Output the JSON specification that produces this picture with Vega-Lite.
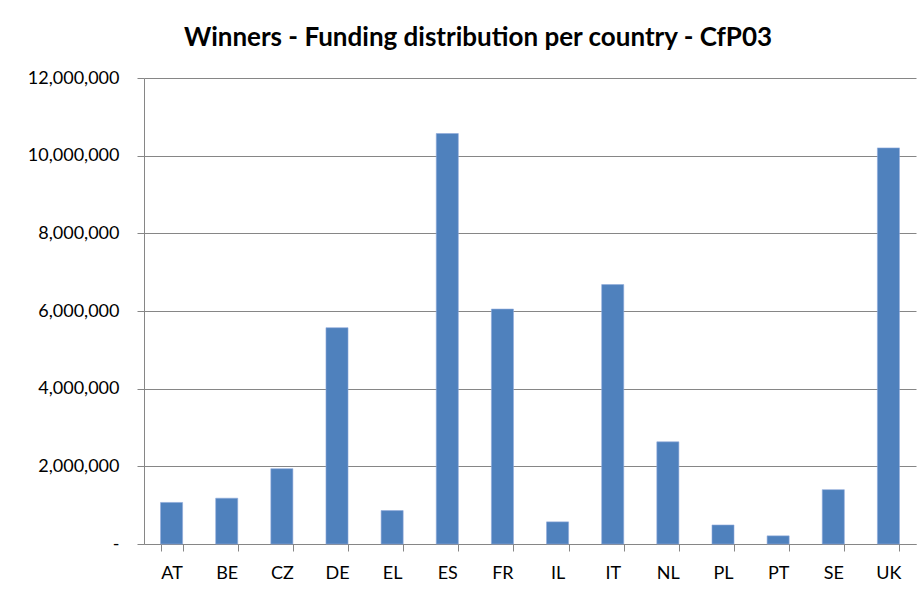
{
  "$schema": "https://vega.github.io/schema/vega-lite/v6.json",
  "autosize": "none",
  "width": 772,
  "height": 466,
  "padding": {"left": 144, "top": 78, "right": 8, "bottom": 48},
  "background": "white",
  "title": {
    "text": "Winners - Funding distribution per country - CfP03",
    "font": "Lato",
    "fontSize": 26,
    "fontWeight": "bold",
    "color": "#000000",
    "anchor": "middle",
    "frame": "group",
    "dx": -52,
    "offset": 18
  },
  "data": {
    "values": [
      {"country": "AT", "funding": 1070000},
      {"country": "BE", "funding": 1180000},
      {"country": "CZ", "funding": 1940000},
      {"country": "DE", "funding": 5570000},
      {"country": "EL", "funding": 860000},
      {"country": "ES", "funding": 10570000},
      {"country": "FR", "funding": 6050000},
      {"country": "IL", "funding": 570000},
      {"country": "IT", "funding": 6680000},
      {"country": "NL", "funding": 2630000},
      {"country": "PL", "funding": 490000},
      {"country": "PT", "funding": 210000},
      {"country": "SE", "funding": 1400000},
      {"country": "UK", "funding": 10200000}
    ]
  },
  "mark": {"type": "bar", "color": "#4F81BD", "stroke": "#8EAADB", "strokeWidth": 0.6},
  "encoding": {
    "x": {
      "field": "country",
      "type": "nominal",
      "sort": null,
      "scale": {"paddingInner": 0.6, "paddingOuter": 0.3},
      "axis": {
        "title": null,
        "labelAngle": 0,
        "labelFont": "Lato",
        "labelFontSize": 18,
        "labelColor": "#000000",
        "labelPadding": 13,
        "tickBand": "extent",
        "tickSize": 7,
        "tickColor": "#868686",
        "domainColor": "#868686",
        "grid": false
      }
    },
    "y": {
      "field": "funding",
      "type": "quantitative",
      "scale": {"domain": [0, 12000000]},
      "axis": {
        "title": null,
        "values": [0, 2000000, 4000000, 6000000, 8000000, 10000000, 12000000],
        "labelExpr": "datum.value == 0 ? '-' : format(datum.value, ',')",
        "labelFont": "Lato",
        "labelFontSize": 18,
        "labelColor": "#000000",
        "labelPadding": 18,
        "tickSize": 7,
        "tickColor": "#868686",
        "domainColor": "#868686",
        "grid": true,
        "gridColor": "#868686",
        "gridOpacity": 1
      }
    }
  },
  "config": {"view": {"stroke": null}}
}
